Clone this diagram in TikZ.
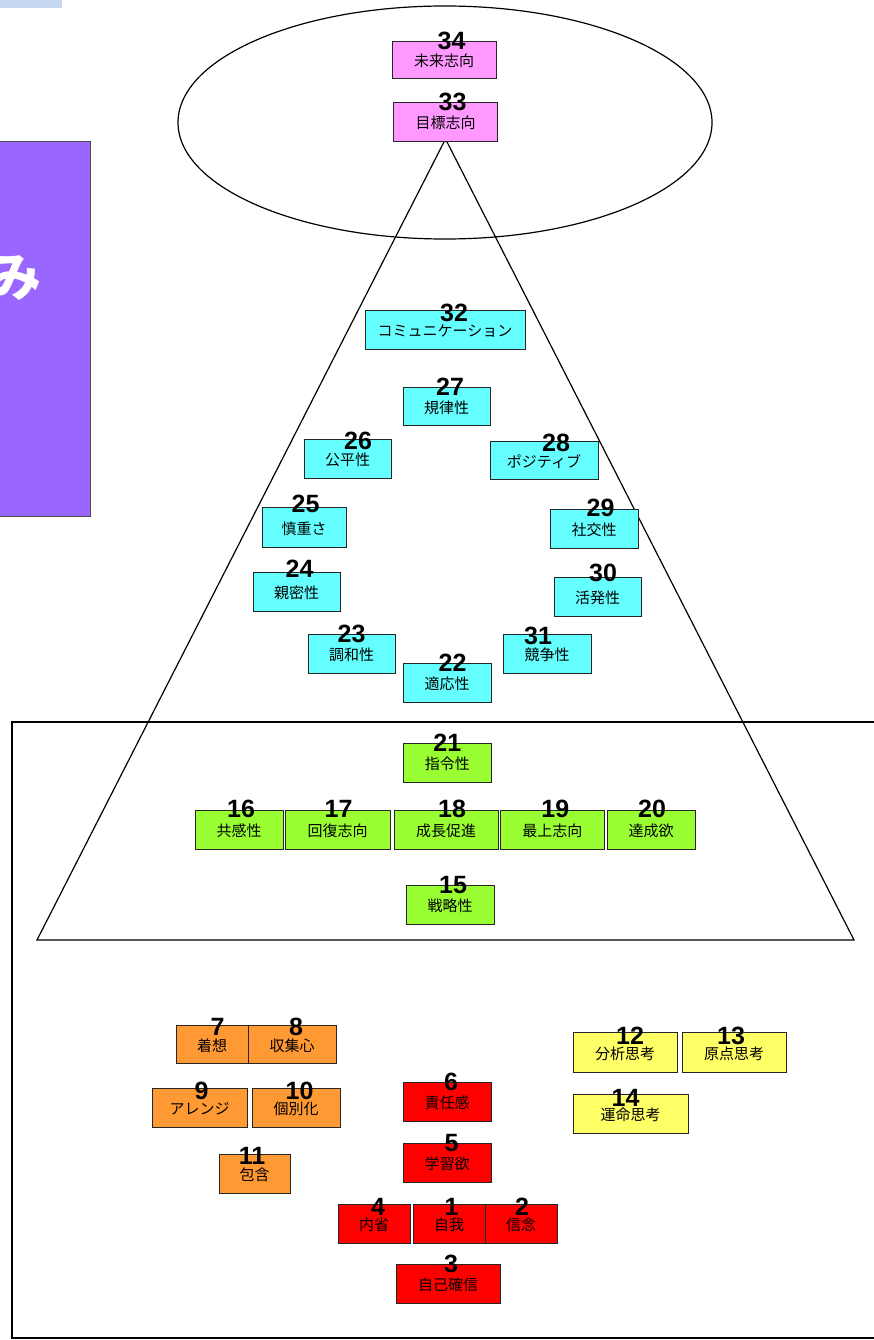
\documentclass[tikz,border=0pt]{standalone}
\usepackage{fontspec}
\setmainfont{Liberation Sans}
\newfontfamily\jp{Noto Sans CJK JP}

\definecolor{cpink}{HTML}{FF99FF}
\definecolor{ccyan}{HTML}{66FFFF}
\definecolor{cgreen}{HTML}{99FF33}
\definecolor{corange}{HTML}{FF9933}
\definecolor{cred}{HTML}{FF0000}
\definecolor{cyellow}{HTML}{FFFF66}
\definecolor{cpurple}{HTML}{9966FF}
\definecolor{cbar}{HTML}{C6D9F1}

\tikzset{
  tbox/.style={draw=black!85, line width=0.8pt, inner sep=0pt, outer sep=0pt},
  ttext/.style={font=\jp\fontsize{15}{15}\selectfont, inner sep=0pt, text=black},
  tnum/.style={font=\fontsize{25}{25}\selectfont\bfseries, inner sep=0pt, text=black},
  outline/.style={draw=black, line width=1.2pt},
}

% #1 name, #2 fill, #3 x1, #4 y1, #5 x2, #6 y2, #7 number, #8 number offset, #9 label
\newcommand\strength[9]{%
  \node[tbox, fill=#2, minimum width={(#5-#3)*1pt}, minimum height={(#6-#4)*1pt}]
    (#1) at ({(#3+#5)/2},{(#4+#6)/2}) {};
  \node[ttext] (#1t) at ([yshift=-1.5pt]#1.center) {#9};
  \node[tnum] (#1n) at ([shift={(#8)}]#1.north) {#7};
}

\begin{document}
\begin{tikzpicture}[x=1pt, y=-1pt]
  \useasboundingbox (0,0) rectangle (874,1340);
  \clip (0,0) rectangle (874,1340);

  % corner tab and side panel
  \fill[cbar] (0,0) rectangle (62,8);
  \draw[fill=cpurple, draw=black!70, line width=1pt] (-5,142) rectangle (90.5,516.5);
  \node[font=\jp\bfseries\fontsize{52}{52}\selectfont, text=white, inner sep=0pt] (panelchar) at (16,278) {み};

  % goal ellipse, pyramid and lower frame
  \draw[outline] (445,122.5) ellipse [x radius=267pt, y radius=116.5pt];
  \coordinate (apex) at (445.5,139);
  \coordinate (baseL) at (37,940);
  \coordinate (baseR) at (854,940);
  \draw[outline] (apex) -- (baseL) -- (baseR) -- cycle;
  \draw[outline] (880,722) -- (12,722) -- (12,1338) -- (880,1338);

  % top
  \strength{s34}{cpink}{392}{41}{496}{78}{34}{7.5,0}{未来志向}
  \strength{s33}{cpink}{393.5}{102}{497.5}{141}{33}{7,0}{目標志向}

  % cyan ring
  \strength{s32}{ccyan}{365}{310}{525}{349}{32}{9,3}{コミュニケーション}
  \strength{s27}{ccyan}{403}{387}{490}{425}{27}{3.5,0}{規律性}
  \strength{s26}{ccyan}{304}{439}{391}{478}{26}{10.5,2}{公平性}
  \strength{s28}{ccyan}{490}{441}{598}{479}{28}{12,1.5}{ポジティブ}
  \strength{s25}{ccyan}{262}{507}{346}{547}{25}{1.5,-3}{慎重さ}
  \strength{s29}{ccyan}{550}{509}{638}{548}{29}{6.5,-1.5}{社交性}
  \strength{s24}{ccyan}{253}{572}{340}{611}{24}{3,-3}{親密性}
  \strength{s30}{ccyan}{554}{577}{641}{616}{30}{5.5,-4.5}{活発性}
  \strength{s23}{ccyan}{308}{634}{395}{673}{23}{0,0}{調和性}
  \strength{s31}{ccyan}{503}{634}{591}{673}{31}{-9,1.5}{競争性}
  \strength{s22}{ccyan}{403}{663}{491}{702}{22}{5.5,0}{適応性}

  % green
  \strength{s21}{cgreen}{403.5}{743}{491}{782}{21}{0,0}{指令性}
  \strength{s16}{cgreen}{195}{810}{283}{849}{16}{2,-1}{共感性}
  \strength{s17}{cgreen}{285}{810}{390}{849}{17}{1,-1}{回復志向}
  \strength{s18}{cgreen}{394}{810}{498}{849}{18}{6,-1}{成長促進}
  \strength{s19}{cgreen}{500.5}{810}{604}{849}{19}{3,-1}{最上志向}
  \strength{s20}{cgreen}{607}{810}{695}{849}{20}{1,-1}{達成欲}
  \strength{s15}{cgreen}{406}{885}{494}{924}{15}{3,0}{戦略性}

  % orange
  \strength{s7}{corange}{176}{1025}{248}{1063}{7}{5.5,2}{着想}
  \strength{s8}{corange}{248}{1025}{336}{1063}{8}{4,2}{収集心}
  \strength{s9}{corange}{152}{1088}{247}{1127}{9}{2,3}{アレンジ}
  \strength{s10}{corange}{252}{1088}{340}{1127}{10}{3.5,3}{個別化}
  \strength{s11}{corange}{219}{1154}{290}{1193}{11}{-2.5,2}{包含}

  % red
  \strength{s6}{cred}{403}{1082}{491}{1121}{6}{4,0}{責任感}
  \strength{s5}{cred}{403}{1143}{491}{1182}{5}{4.5,0}{学習欲}
  \strength{s4}{cred}{338}{1204}{410}{1243}{4}{4,3}{内省}
  \strength{s1}{cred}{413}{1204}{485}{1243}{1}{2.5,3}{自我}
  \strength{s2}{cred}{485}{1204}{557}{1243}{2}{1,3}{信念}
  \strength{s3}{cred}{396}{1264}{500}{1303}{3}{3,0}{自己確信}

  % yellow
  \strength{s12}{cyellow}{573}{1032}{677}{1072}{12}{5,4}{分析思考}
  \strength{s13}{cyellow}{682}{1032}{786}{1072}{13}{-3,4}{原点思考}
  \strength{s14}{cyellow}{573}{1094}{688}{1133}{14}{-5,3.5}{運命思考}
\end{tikzpicture}
\end{document}
